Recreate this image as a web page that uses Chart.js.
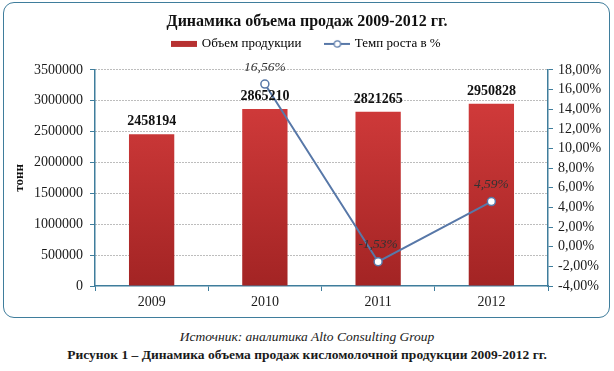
<!DOCTYPE html>
<html>
<head>
<meta charset="utf-8">
<script src="https://cdn.jsdelivr.net/npm/chart.js@4.4.0/dist/chart.umd.min.js"></script>
<style>
  body { margin: 0; background: #fff; font-family: "Liberation Serif", serif; }
  #wrap { position: relative; width: 614px; height: 371px; }
  #frame { position: absolute; left: 3px; top: 2px; width: 607px; height: 316px;
           box-sizing: border-box; border: 1.5px solid #3f7d9c; border-radius: 11px; }
  #chart { position: absolute; left: 0; top: 0; }
  .cap { position: absolute; left: 0; width: 614px; text-align: center; color: #1a1a1a; }
  #source { top: 329px; font-style: italic; font-size: 13.5px; }
  #figure { top: 347px; font-weight: bold; font-size: 13.5px; }
</style>
</head>
<body>
<div id="wrap">
  <div id="frame"></div>
  <canvas id="chart" width="614" height="320"></canvas>
  <div class="cap" id="source">Источник: аналитика Alto Consulting Group</div>
  <div class="cap" id="figure">Рисунок 1 – Динамика объема продаж кисломолочной продукции 2009-2012 гг.</div>
</div>
<script>
// Data
const years = ['2009', '2010', '2011', '2012'];
const volume = [2458194, 2865210, 2821265, 2950828];   // тонн
const growth = [null, 16.56, -1.53, 4.59];             // %
const volumeTicks = { min: 0, max: 3500000, step: 500000 };
const growthTicks = { min: -4, max: 18, step: 2 };

const AXIS = '#3f7d9c';
const LINE = '#5878a8';
const FONT = '"Liberation Serif", "Times New Roman", serif';

function pct(v) {
    return v.toFixed(2).replace('.', ',') + '%';
}

// legend icons
function makeIcon(kind) {
    const c = document.createElement('canvas');
    c.width = 26;
    c.height = 10;
    const g = c.getContext('2d');
    if (kind === 'bar') {
        g.fillStyle = '#b73131';
        g.fillRect(0, 2, 26, 6);
    } else {
        g.strokeStyle = LINE;
        g.lineWidth = 2;
        g.beginPath();
        g.moveTo(0, 5);
        g.lineTo(26, 5);
        g.stroke();
        g.fillStyle = '#fff';
        g.lineWidth = 1.2;
        g.beginPath();
        g.arc(13, 5, 3.2, 0, Math.PI * 2);
        g.fill();
        g.stroke();
    }
    return c;
}
const icons = [makeIcon('bar'), makeIcon('line')];

// legend keeps wide item spacing, but its box height is fixed so the plot starts at y=70
const legendBox = {
    id: 'legendBox',
    beforeLayout(chart) {
        const lg = chart.legend;
        if (lg && !lg._fixed) {
            const fit = lg.fit;
            lg.fit = function () {
                fit.call(this);
                this.height = 57.5;
            };
            lg._fixed = true;
        }
    }
};

// value labels above bars and points
const valueLabels = {
    id: 'valueLabels',
    afterDatasetsDraw(chart) {
        const ctx = chart.ctx;
        ctx.save();
        ctx.textAlign = 'center';
        ctx.textBaseline = 'middle';
        ctx.font = 'bold 14px ' + FONT;
        ctx.fillStyle = '#111';
        chart.getDatasetMeta(0).data.forEach((bar, i) => {
            ctx.fillText(String(volume[i]), bar.x, bar.y - 12.5);
        });
        ctx.font = 'italic 13.5px ' + FONT;
        ctx.fillStyle = '#333';
        chart.getDatasetMeta(1).data.forEach((pt, i) => {
            if (growth[i] === null) return;
            ctx.fillText(pct(growth[i]), pt.x, pt.y - 17);
        });
        ctx.restore();
    }
};

const ctx = document.getElementById('chart').getContext('2d');

function barGradient(context) {
    const area = context.chart.chartArea;
    if (!area) return '#c03535';
    const g = context.chart.ctx.createLinearGradient(0, area.top, 0, area.bottom);
    g.addColorStop(0, '#d83e3e');
    g.addColorStop(1, '#a32424');
    return g;
}

new Chart(ctx, {
    data: {
        labels: years,
        datasets: [{
            type: 'bar',
            label: 'Объем продукции',
            data: volume,
            yAxisID: 'y',
            backgroundColor: barGradient,
            barPercentage: 0.4,
            categoryPercentage: 1,
            order: 2
        }, {
            type: 'line',
            label: 'Темп роста в %',
            data: growth,
            yAxisID: 'y1',
            borderColor: LINE,
            borderWidth: 2,
            pointRadius: 4,
            pointBackgroundColor: '#fff',
            pointBorderColor: LINE,
            pointBorderWidth: 1.5,
            order: 1
        }]
    },
    options: {
        responsive: false,
        animation: false,
        devicePixelRatio: 1,
        layout: { padding: 0 },
        plugins: {
            title: {
                display: true,
                text: 'Динамика объема продаж 2009-2012 гг.',
                color: '#111',
                font: { family: FONT, size: 16, weight: 'bold' },
                padding: { top: 12, bottom: -18.8 }
            },
            legend: {
                display: true,
                labels: {
                    color: '#222',
                    font: { family: FONT, size: 13 },
                    usePointStyle: true,
                    pointStyleWidth: 22,
                    padding: 25,
                    generateLabels: () => [
                        { text: 'Объем продукции', pointStyle: icons[0], datasetIndex: 0, lineWidth: 0 },
                        { text: 'Темп роста в %', pointStyle: icons[1], datasetIndex: 1, lineWidth: 0 }
                    ]
                }
            },
            tooltip: { enabled: false }
        },
        scales: {
            x: {
                afterFit: (s) => { s.height = 34; },
                grid: {
                    display: true,
                    drawOnChartArea: false,
                    drawTicks: true,
                    tickLength: 5,
                    tickColor: AXIS
                },
                border: { color: AXIS, width: 1.5 },
                ticks: { color: '#1a1a1a', font: { family: FONT, size: 14 }, padding: 3 }
            },
            y: {
                position: 'left',
                min: volumeTicks.min,
                max: volumeTicks.max,
                afterFit: (s) => { s.width = 95; },
                ticks: {
                    stepSize: volumeTicks.step,
                    autoSkip: false,
                    color: '#1a1a1a',
                    font: { family: FONT, size: 14 },
                    padding: 7,
                    callback: (v) => String(v)
                },
                grid: {
                    color: (c) => c.tick && c.tick.value === 0 ? 'rgba(0,0,0,0)' : '#7a7a7a',
                    lineWidth: 1,
                    tickLength: 5,
                    tickColor: AXIS
                },
                border: { color: AXIS, width: 1.5, dash: [1, 2] },
                title: {
                    display: true,
                    text: 'тонн',
                    color: '#111',
                    font: { family: FONT, size: 13, weight: 'bold' },
                    padding: { top: 12, bottom: 0 }
                }
            },
            y1: {
                position: 'right',
                min: growthTicks.min,
                max: growthTicks.max,
                afterFit: (s) => { s.width = 66; },
                ticks: {
                    stepSize: growthTicks.step,
                    autoSkip: false,
                    color: '#1a1a1a',
                    font: { family: FONT, size: 14 },
                    padding: 5,
                    callback: (v) => pct(v)
                },
                grid: {
                    drawOnChartArea: false,
                    tickLength: 5,
                    tickColor: AXIS
                },
                border: { color: AXIS, width: 1.5 }
            }
        }
    },
    plugins: [legendBox, valueLabels]
});
</script>
</body>
</html>
